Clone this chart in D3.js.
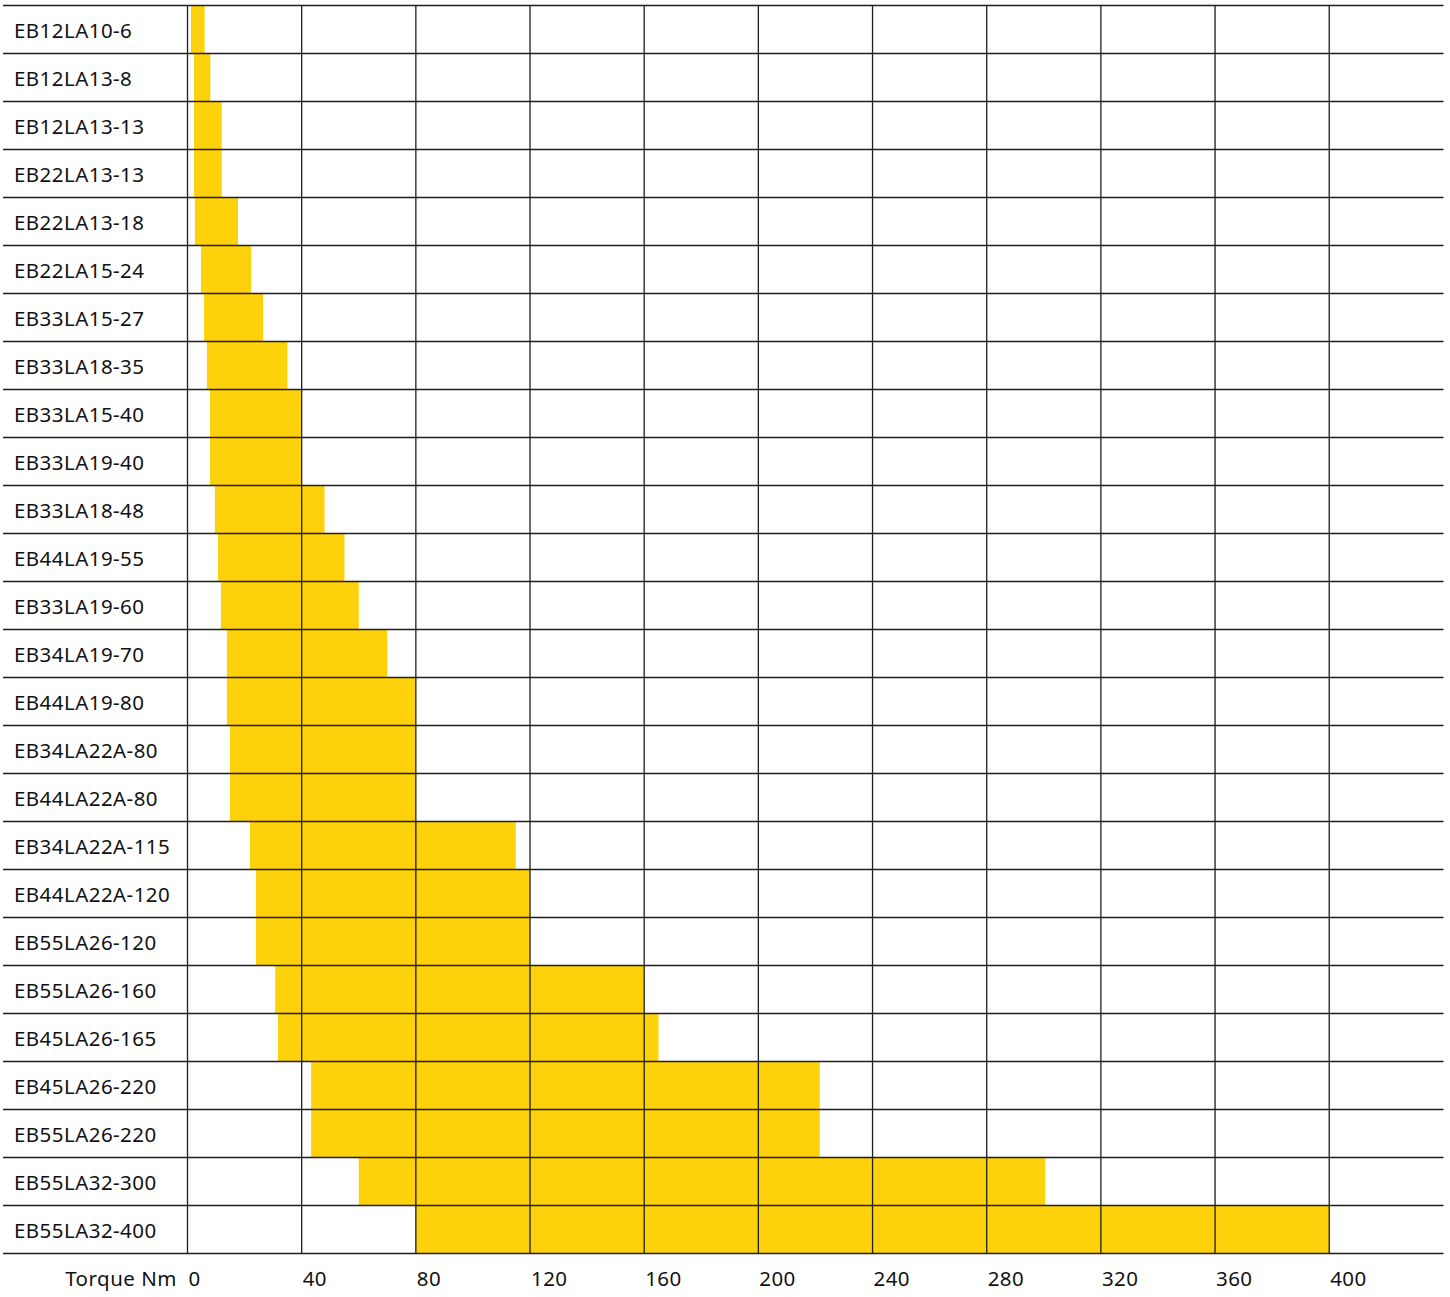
<!DOCTYPE html>
<html>
<head>
    <meta charset="utf-8">
    <style>
        body {
            margin: 0;
            background: #fff;
        }
        svg {
            display: block;
            font-family: 'Noto Sans', 'Open Sans', sans-serif;
        }
    </style>
</head>
<body>
    <svg width="1450" height="1297"></svg>

<script src="https://d3js.org/d3.v7.min.js"></script>
<script>
    // brake models, top to bottom
    let models = [
        "EB12LA10-6", "EB12LA13-8", "EB12LA13-13", "EB22LA13-13", "EB22LA13-18",
        "EB22LA15-24", "EB33LA15-27", "EB33LA18-35", "EB33LA15-40", "EB33LA19-40",
        "EB33LA18-48", "EB44LA19-55", "EB33LA19-60", "EB34LA19-70", "EB44LA19-80",
        "EB34LA22A-80", "EB44LA22A-80", "EB34LA22A-115", "EB44LA22A-120", "EB55LA26-120",
        "EB55LA26-160", "EB45LA26-165", "EB45LA26-220", "EB55LA26-220", "EB55LA32-300",
        "EB55LA32-400"
    ]

    // torque range in Nm
    let torqueMin = [
        1.2, 2.3, 2.3, 2.3, 2.6,
        4.7, 5.8, 6.8, 7.9, 7.9,
        9.6, 10.7, 11.7, 13.8, 13.8,
        14.9, 14.9, 21.9, 24, 24,
        30.7, 31.7, 43.3, 43.3, 60,
        80
    ]
    let torqueMax = [
        6, 8, 12, 12, 17.7,
        22.3, 26.5, 35, 40, 40,
        48, 55, 60, 70, 80,
        80, 80, 115, 120, 120,
        160, 165, 221.5, 221.5, 300.5,
        400
    ]

    let ticks = [0, 40, 80, 120, 160, 200, 240, 280, 320, 360, 400]

    let svg = d3.select("svg")

    let x = d3.scaleLinear()
        .domain([0, 440])
        .range([187.5, 1443.4])

    let y = d3.scaleBand()
        .domain(models)
        .range([5.5, 1253.5])
        .padding(0)

    let rows = models.map((m, i) => ({ name: m, lo: torqueMin[i], hi: torqueMax[i] }))

    // bars
    svg.selectAll(".bar")
        .data(rows)
        .join("rect")
        .attr("class", "bar")
        .attr("x", d => x(d.lo))
        .attr("y", d => y(d.name))
        .attr("width", d => x(d.hi) - x(d.lo))
        .attr("height", y.bandwidth())
        .style("fill", "#fed20a")

    // vertical grid
    svg.selectAll(".vgrid")
        .data(ticks)
        .join("line")
        .attr("class", "vgrid")
        .attr("x1", d => x(d))
        .attr("x2", d => x(d))
        .attr("y1", 5.5)
        .attr("y2", 1253.5)
        .style("stroke", "#1e1e1e")
        .style("stroke-width", 1.3)

    // horizontal row lines
    let hlines = models.map(m => y(m)).concat([1253.5])
    svg.selectAll(".hgrid")
        .data(hlines)
        .join("line")
        .attr("class", "hgrid")
        .attr("x1", 3)
        .attr("x2", 1443.5)
        .attr("y1", d => d)
        .attr("y2", d => d)
        .style("stroke", "#1e1e1e")
        .style("stroke-width", 1.3)

    // row labels
    svg.selectAll(".label")
        .data(models)
        .join("text")
        .attr("class", "label")
        .attr("x", 14)
        .attr("y", d => y(d) + y.bandwidth() / 2 + 8)
        .style("font-size", "20.5px")
        .style("letter-spacing", "0.45px")
        .style("fill", "#111")
        .text(d => d)

    // tick labels
    svg.selectAll(".tick")
        .data(ticks)
        .join("text")
        .attr("class", "tick")
        .attr("x", d => x(d) + 1)
        .attr("y", 1286)
        .style("font-size", "20.5px")
        .style("letter-spacing", "0.4px")
        .style("fill", "#111")
        .text(d => d)

    svg.append("text")
        .attr("x", 177)
        .attr("y", 1286)
        .attr("text-anchor", "end")
        .style("font-size", "20.5px")
        .style("letter-spacing", "0.5px")
        .style("fill", "#111")
        .text("Torque Nm")
</script>
</body>
</html>
